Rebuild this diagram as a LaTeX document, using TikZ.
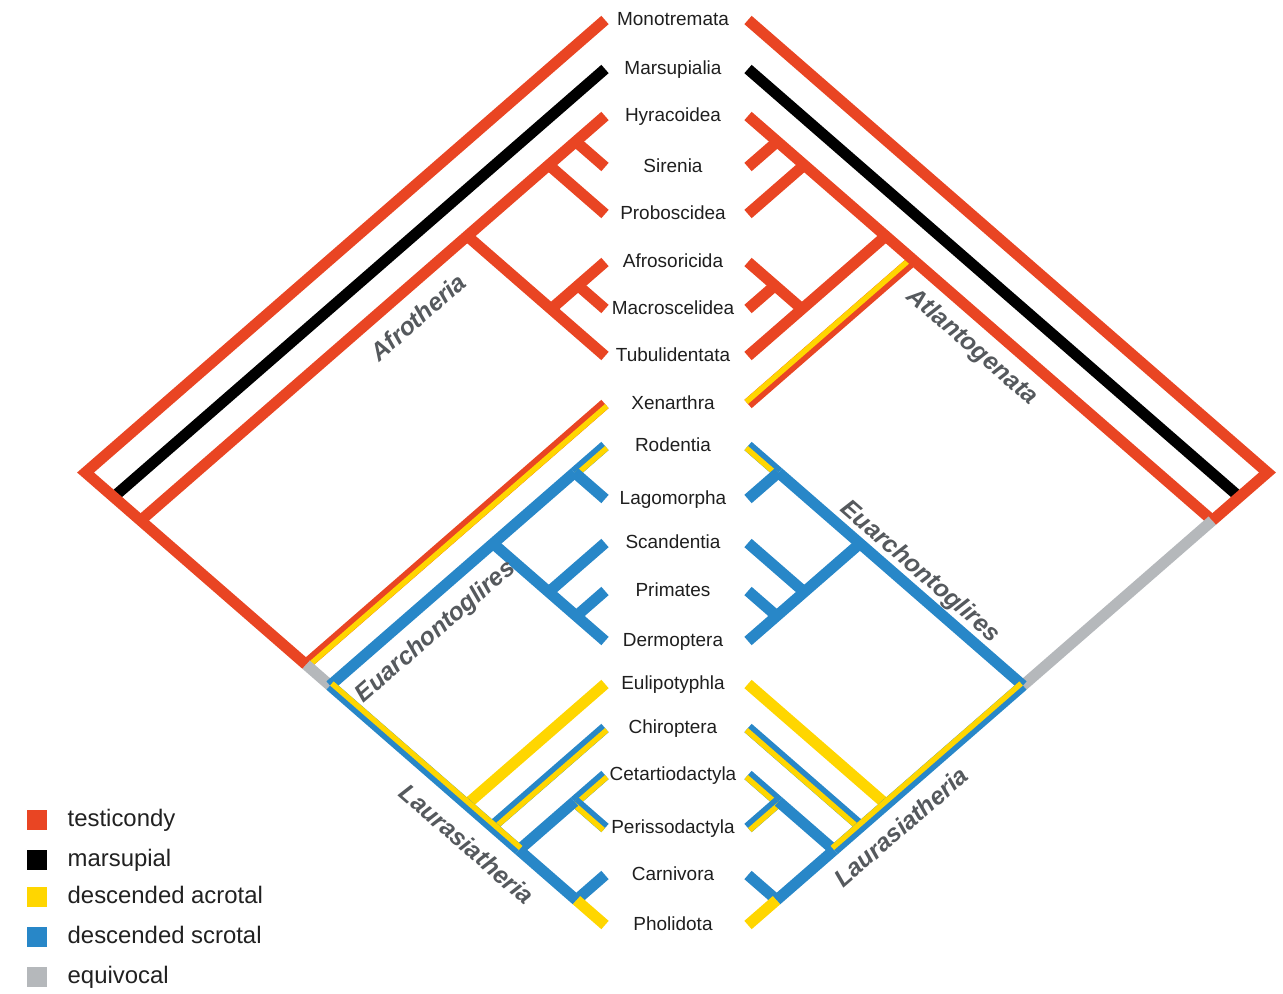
\documentclass[tikz,border=0pt]{standalone}
\usepackage{fontspec}
\setmainfont{Liberation Sans}
\usetikzlibrary{calc, positioning}
\definecolor{TestRed}{HTML}{E94523}
\definecolor{MarsBlack}{HTML}{000000}
\definecolor{AcroYellow}{HTML}{FFD600}
\definecolor{ScroBlue}{HTML}{2887C8}
\definecolor{EquiGray}{HTML}{B5B8BB}
\definecolor{CladeGray}{HTML}{55595D}

% clade node on both sides: name, top tip y, bottom tip y
\newcommand{\clade}[3]{%
  \coordinate (L#1) at ({605-0.574*(#3-#2)},{(#2+#3)/2});
  \coordinate (R#1) at ({748+0.574*(#3-#2)},{(#2+#3)/2});}
% two-tone branch: base colour, stripe colour, from, to (stripe on the left)
\newcommand{\duo}[4]{%
  \draw[br, #1] (#3) -- (#4);
  \draw[br, #2, line width=3.1pt] ($(#3)!1.55pt!90:(#4)$) -- ($(#4)!1.55pt!-90:(#3)$);}

\begin{document}
\begin{tikzpicture}[x=0.02cm, y=-0.02cm,
    br/.style={line width=6.3pt, line cap=butt, line join=miter},
    taxon/.style={font=\fontsize{10.8}{13}\selectfont, text=black!88, inner sep=0pt, text height=7.7pt, text depth=1pt},
    clade/.style={font=\fontsize{14}{17}\selectfont\bfseries\itshape, text=CladeGray, inner sep=0pt},
    legsq/.style={minimum size=0.4cm, inner sep=0pt},
    legtxt/.style={font=\fontsize{13.6}{16}\selectfont, text=black!87, inner sep=0pt, text height=9.7pt, text depth=2.8pt}]
  \fill[white] (0,0) rectangle (1283,993);
  \useasboundingbox (0,0) rectangle (1283,993);

  % Taxa
  \foreach \nm/\yy/\txt in {Mono/20/Monotremata, Mars/69/Marsupialia, Hyr/116/Hyracoidea,
      Sir/167/Sirenia, Prob/214/Proboscidea, Afs/262/Afrosoricida, Mac/309/Macroscelidea,
      Tub/356/Tubulidentata, Xen/404/Xenarthra, Rod/446/Rodentia, Lag/499/Lagomorpha,
      Scan/543/Scandentia, Prim/591/Primates, Derm/641/Dermoptera, Eul/684/Eulipotyphla,
      Chir/728/Chiroptera, Cet/775/Cetartiodactyla, Per/828/Perissodactyla,
      Carn/875/Carnivora, Phol/925/Pholidota}{
    \node[taxon] (t\nm) at (673,\yy) {\txt};
    \coordinate (l\nm) at (605,\yy);
    \coordinate (r\nm) at (748,\yy);
  }

  % Clade nodes
  \clade{HS}{116}{167}
  \clade{HSP}{116}{214}
  \clade{AM}{262}{309}
  \clade{AMT}{262}{356}
  \clade{Afro}{116}{356}
  \clade{Atl}{116}{404}
  \clade{Glir}{446}{499}
  \clade{PD}{591}{641}
  \clade{Euarchonta}{543}{641}
  \clade{Euarch}{446}{641}
  \clade{CP}{775}{828}
  \clade{CaPh}{875}{925}
  \clade{CPCaPh}{775}{925}
  \clade{ChirX}{728}{925}
  \clade{Laur}{684}{925}
  \clade{Boreo}{446}{925}
  \clade{XB}{404}{925}
  \clade{Top}{116}{925}
  \clade{Theria}{69}{925}
  \clade{Root}{20}{925}

  % Marsupialia
  \draw[br, MarsBlack] (lMars) -- (LTheria);
  \draw[br, MarsBlack] (rMars) -- (RTheria);

  % Xenarthra
  \duo{TestRed}{AcroYellow}{lXen}{LXB}
  \duo{TestRed}{AcroYellow}{rXen}{RAtl}

  % Afrotheria
  \draw[br, TestRed] (lSir) -- (LHS);
  \draw[br, TestRed] (lProb) -- (LHSP);
  \draw[br, TestRed] (lMac) -- (LAM);
  \draw[br, TestRed] (lAfs) -- (LAMT);
  \draw[br, TestRed] (lTub) -- (LAfro);
  \draw[br, TestRed] (lHyr) -- (LTop);
  \draw[br, TestRed] (rSir) -- (RHS);
  \draw[br, TestRed] (rProb) -- (RHSP);
  \draw[br, TestRed] (rMac) -- (RAM);
  \draw[br, TestRed] (rAfs) -- (RAMT);
  \draw[br, TestRed] (rTub) -- (RAfro);
  \draw[br, TestRed] (rHyr) -- (RTop);

  % equivocal stems and outer frame
  \draw[br, EquiGray] (LXB) -- (LBoreo);
  \draw[br, EquiGray] (RTop) -- (RBoreo);
  \draw[br, TestRed] (lMono) -- (LRoot) -- (LXB);
  \draw[br, TestRed] (rMono) -- (RRoot) -- (RTop);

  % Euarchontoglires
  \duo{ScroBlue}{AcroYellow}{lRod}{LGlir}
  \draw[br, ScroBlue] (lLag) -- (LGlir);
  \draw[br, ScroBlue] (lScan) -- (LEuarchonta);
  \draw[br, ScroBlue] (lPrim) -- (LPD);
  \draw[br, ScroBlue] (lDerm) -- (LEuarch);
  \draw[br, ScroBlue] (LGlir) -- (LBoreo);
  \duo{ScroBlue}{AcroYellow}{RGlir}{rRod}
  \draw[br, ScroBlue] (rLag) -- (RGlir);
  \draw[br, ScroBlue] (rScan) -- (REuarchonta);
  \draw[br, ScroBlue] (rPrim) -- (RPD);
  \draw[br, ScroBlue] (rDerm) -- (REuarch);
  \draw[br, ScroBlue] (RGlir) -- (RBoreo);

  % Laurasiatheria
  \draw[br, AcroYellow] (lEul) -- (LLaur);
  \duo{ScroBlue}{AcroYellow}{lChir}{LChirX}
  \duo{ScroBlue}{AcroYellow}{lCet}{LCP}
  \duo{ScroBlue}{AcroYellow}{lPer}{LCP}
  \draw[br, ScroBlue] (lCarn) -- (LCaPh);
  \draw[br, AcroYellow] (lPhol) -- (LCaPh);
  \draw[br, ScroBlue] (LCP) -- (LCPCaPh);
  \draw[br, ScroBlue] (LCaPh) -- (LCPCaPh);
  \duo{ScroBlue}{AcroYellow}{LBoreo}{LCPCaPh}
  \draw[br, AcroYellow] (rEul) -- (RLaur);
  \duo{ScroBlue}{AcroYellow}{RChirX}{rChir}
  \duo{ScroBlue}{AcroYellow}{RCP}{rCet}
  \duo{ScroBlue}{AcroYellow}{RCP}{rPer}
  \draw[br, ScroBlue] (rCarn) -- (RCaPh);
  \draw[br, AcroYellow] (rPhol) -- (RCaPh);
  \draw[br, ScroBlue] (RCP) -- (RCPCaPh);
  \draw[br, ScroBlue] (RCaPh) -- (RCPCaPh);
  \duo{ScroBlue}{AcroYellow}{RCPCaPh}{RBoreo}

  % Clade labels
  \node[clade, rotate=41] (afroLbl) at (418,317) {Afrotheria};
  \node[clade, rotate=-41] (atlLbl) at (972,347) {Atlantogenata};
  \node[clade, rotate=41] (euarchL) at (436,632) {Euarchontoglires};
  \node[clade, rotate=-41] (euarchR) at (920,572) {Euarchontoglires};
  \node[clade, rotate=-41] (laurL) at (467,844) {Laurasiatheria};
  \node[clade, rotate=41] (laurR) at (901,827) {Laurasiatheria};

  % Legend
  \foreach \col/\yy/\txt [count=\i] in {TestRed/820/testicondy, MarsBlack/860/marsupial,
      AcroYellow/897/descended acrotal, ScroBlue/937/descended scrotal, EquiGray/977/equivocal}{
    \node[legsq, fill=\col] (sq\i) at (37,\yy) {};
    \node[legtxt, right=0.4cm of sq\i] (lg\i) {\txt};
  }
\end{tikzpicture}
\end{document}
